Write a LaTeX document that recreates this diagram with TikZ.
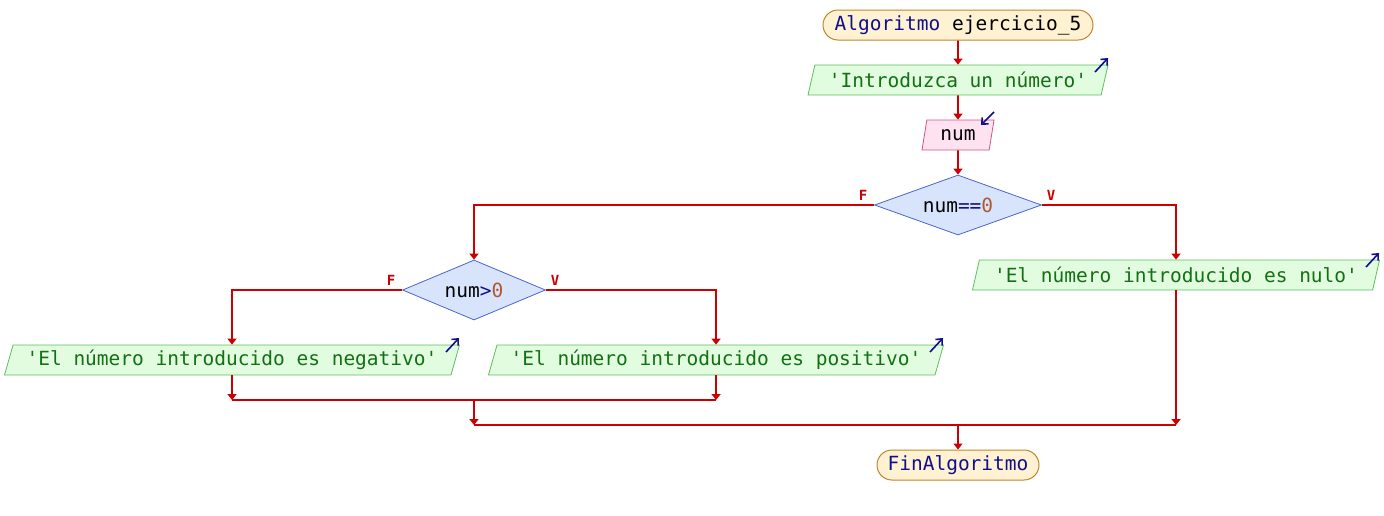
\documentclass[tikz,border=0pt]{standalone}
\usepackage{fontspec}
\setmonofont{DejaVu Sans Mono}
\usetikzlibrary{shapes.geometric,shapes.misc,arrows.meta,calc}
\definecolor{lred}{HTML}{CC0000}
\definecolor{tfill}{HTML}{FFF2D2}
\definecolor{tdraw}{HTML}{C0852A}
\definecolor{ofill}{HTML}{E2FCE0}
\definecolor{odraw}{HTML}{5CBF5C}
\definecolor{ifill}{HTML}{FFE2F0}
\definecolor{idraw}{HTML}{CC5588}
\definecolor{dfill}{HTML}{D8E4FC}
\definecolor{ddraw}{HTML}{4A66CC}
\definecolor{kw}{HTML}{10108A}
\definecolor{str}{HTML}{137013}
\definecolor{numc}{HTML}{B0582A}
\tikzset{
  x=1pt, y=-1pt,
  every node/.style={font=\ttfamily\fontsize{19.5}{22}\selectfont, inner sep=0pt},
  term/.style={rounded rectangle, draw=tdraw, fill=tfill, line width=1pt, minimum height=30pt, text=kw},
  outbox/.style={trapezium, trapezium left angle=66.6, trapezium right angle=113.4, trapezium stretches body,
     draw=odraw, fill=ofill, line width=0.8pt, minimum height=30pt, text=str},
  inbox/.style={trapezium, trapezium left angle=66.6, trapezium right angle=113.4, trapezium stretches body,
     draw=idraw, fill=ifill, line width=0.8pt, minimum height=30pt, text=black},
  cond/.style={diamond, draw=ddraw, fill=dfill, line width=0.8pt, minimum height=60pt, text=black},
  flow/.style={draw=lred, line width=1.6pt},
  arr/.style={flow, -{Triangle[length=6pt,width=9pt]}},
  lab/.style={text=lred, font=\ttfamily\bfseries\fontsize{14}{16}\selectfont},
  icon/.style={draw=kw, line width=1.6pt, -{Straight Barb[length=5pt,width=9pt]}}
}
\begin{document}
\begin{tikzpicture}
\useasboundingbox (0,0) rectangle (1384,515);
\node[term, minimum width=270pt] (start) at (958,25) {Algoritmo \textcolor{black}{ejercicio\_5}};
\node[outbox, minimum width=300pt] (intro) at (958,80) {'Introduzca un número'};
\node[inbox, minimum width=72pt] (num) at (958,135) {num};
\node[cond, aspect=2.78, minimum width=167pt] (c1) at (958,205) {num\textcolor{kw}{==}\textcolor{numc}{0}};
\node[outbox, minimum width=407pt] (nulo) at (1176,275) {'El número introducido es nulo'};
\node[cond, aspect=2.38, minimum width=143pt] (c2) at (474,290) {num\textcolor{kw}{>}\textcolor{numc}{0}};
\node[outbox, minimum width=455pt] (neg) at (232,360) {'El número introducido es negativo'};
\node[outbox, minimum width=455pt] (pos) at (716,360) {'El número introducido es positivo'};
\node[term, minimum width=162pt] (fin) at (958,465) {FinAlgoritmo};
% icons
\coordinate (ia) at (1095,72);
\coordinate (ib) at (1108,58);
\draw[icon] (ia) -- (ib);
\coordinate (na) at (994,112);
\coordinate (nb) at (981,125);
\draw[icon] (na) -- (nb);
\coordinate (ua) at (1366,267);
\coordinate (ub) at (1379,253);
\draw[icon] (ua) -- (ub);
\coordinate (ga) at (446,352);
\coordinate (gb) at (459,338);
\draw[icon] (ga) -- (gb);
\coordinate (pa) at (930,352);
\coordinate (pb) at (943,338);
\draw[icon] (pa) -- (pb);
% flow
\draw[arr] (start) -- (intro);
\draw[arr] (intro) -- (num);
\draw[arr] (num) -- (c1);
\draw[arr] (c1.west) -| (c2.north);
\draw[arr] (c1.east) -| (nulo.north);
\node[lab] (f1) at (863,195) {F};
\node[lab] (v1) at (1051,195) {V};
\draw[arr] (c2.west) -| (neg.north);
\draw[arr] (c2.east) -| (pos.north);
\node[lab] (f2) at (391,280) {F};
\node[lab] (v2) at (555,280) {V};
\coordinate (j1) at (474,400);
\coordinate (j2) at (958,425);
\draw[arr] (neg.south) -- (neg.south |- j1);
\draw[arr] (pos.south) -- (pos.south |- j1);
\draw[flow] (neg.south |- j1) -- (pos.south |- j1);
\draw[arr] (j1) -- (j1 |- j2);
\draw[arr] (nulo.south) -- (nulo.south |- j2);
\draw[flow] (j1 |- j2) -- (nulo.south |- j2);
\draw[arr] (j2) -- (fin.north);
\end{tikzpicture}
\end{document}
